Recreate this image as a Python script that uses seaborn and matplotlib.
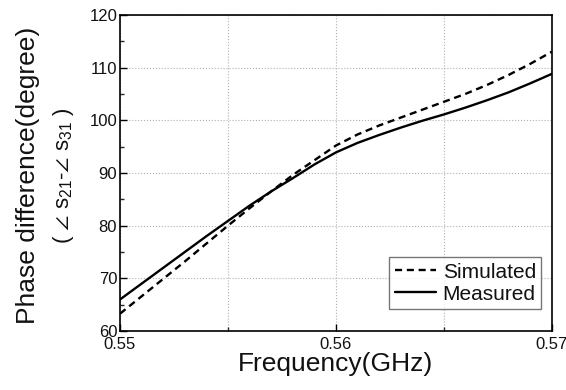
import matplotlib
matplotlib.use("Agg")
import matplotlib.pyplot as plt
from matplotlib.ticker import MultipleLocator
import pandas as pd
import seaborn as sns

freq = [0.550, 0.551, 0.552, 0.553, 0.554, 0.555, 0.556, 0.557, 0.558, 0.559, 0.560,
        0.561, 0.562, 0.563, 0.564, 0.565, 0.566, 0.567, 0.568, 0.569, 0.570]
simulated = [63.3, 66.6, 69.9, 73.2, 76.6, 80.0, 83.3, 86.5, 89.6, 92.4, 95.2,
             97.3, 99.0, 100.5, 102.0, 103.5, 105.0, 106.7, 108.6, 110.7, 113.0]
measured = [66.0, 69.0, 72.0, 75.0, 78.0, 80.9, 83.8, 86.5, 89.0, 91.6, 93.9,
            95.7, 97.2, 98.6, 99.9, 101.1, 102.4, 103.8, 105.3, 107.0, 108.8]

sns.set_theme(style="ticks")
plt.rcParams["font.family"] = ["Liberation Sans", "DejaVu Sans"]
plt.rcParams["mathtext.fontset"] = "custom"
plt.rcParams["mathtext.rm"] = "Liberation Sans"
plt.rcParams["mathtext.it"] = "Liberation Sans"
plt.rcParams["text.color"] = "#111111"
plt.rcParams["axes.labelcolor"] = "#111111"

df = pd.DataFrame({"freq": freq, "Simulated": simulated, "Measured": measured})

fig = plt.figure(figsize=(5.66, 3.90), dpi=100)
ax = fig.add_axes([0.212, 0.151, 0.763, 0.811])

sns.lineplot(data=df, x="freq", y="Simulated", ax=ax, color="black",
             linestyle=(0, (3, 2)), linewidth=1.7, label="Simulated")
sns.lineplot(data=df, x="freq", y="Measured", ax=ax, color="black",
             linestyle="-", linewidth=1.7, label="Measured")

ax.set_xlim(0.55, 0.57)
ax.set_ylim(60, 120)
ax.xaxis.set_minor_locator(MultipleLocator(0.005))
ax.yaxis.set_major_locator(MultipleLocator(10))
ax.yaxis.set_minor_locator(MultipleLocator(5))
ax.set_xticks([0.55, 0.56, 0.57])
ax.set_xticklabels(["0.55", "0.56", "0.57"])

ax.grid(True, which="major", axis="y", linestyle=":", color="#b0b0b0", linewidth=0.8)
ax.grid(True, which="both", axis="x", linestyle=":", color="#b0b0b0", linewidth=0.8)

ax.tick_params(which="major", direction="in", length=5, width=1, labelsize=12,
               colors="black", labelcolor="#111111", pad=2)
ax.tick_params(axis="x", which="major", pad=4)
ax.tick_params(which="minor", direction="in", length=3, width=1)
for s in ax.spines.values():
    s.set_linewidth(1.2)
    s.set_color("black")

ax.set_xlabel("Frequency(GHz)", fontsize=19, labelpad=0)
ax.set_ylabel("")
fig.text(0.05, 0.55, "Phase difference(degree)", rotation=90, fontsize=19,
         ha="center", va="center")
fig.text(0.112, 0.55, r"( $\angle$ s$_{21}$-$\angle$ s$_{31}$ )", rotation=90,
         fontsize=16, ha="center", va="center",
         family=["Liberation Sans", "DejaVu Sans"])

leg = ax.legend(loc="lower right", bbox_to_anchor=(0.975, 0.07), fontsize=15,
                frameon=True, fancybox=False, edgecolor="#555555",
                handlelength=2.0, handletextpad=0.3, borderpad=0.25,
                labelspacing=0.15, borderaxespad=0.0)
leg.get_frame().set_linewidth(1.0)

fig.savefig("out.png", dpi=100)
